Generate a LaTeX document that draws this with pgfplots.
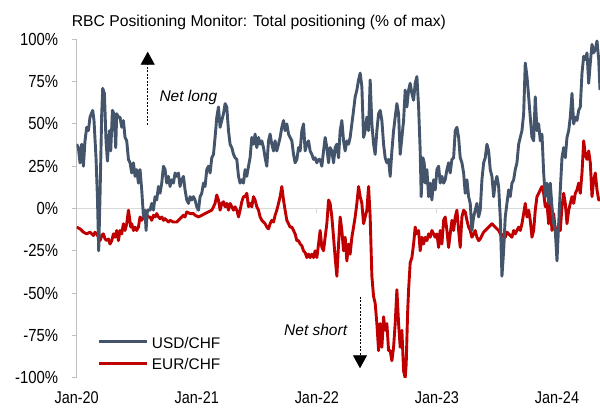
\documentclass[border=0pt]{standalone}
\usepackage{pgfplots}
\pgfplotsset{compat=1.18}
\usepackage{fontspec}
\setmainfont{Liberation Sans}
\newfontfamily\narrowfont[FakeStretch=0.85]{Liberation Sans}
\usetikzlibrary{arrows.meta}
\definecolor{usdc}{HTML}{44546A}
\definecolor{eurc}{HTML}{C00000}
\definecolor{axgray}{HTML}{BFBFBF}
\definecolor{zgray}{HTML}{D9D9D9}
\begin{document}
\begin{tikzpicture}[x=1pt,y=1pt]
\path[use as bounding box] (0,0) rectangle (600,409);
\begin{axis}[
  at={(76.7pt,31.3pt)}, anchor=south west,
  width=523.3pt, height=338.4pt, scale only axis,
  xmin=0, xmax=52.3, ymin=-100, ymax=100,
  axis x line*=bottom, x axis line style={draw=none},
  axis y line*=left, y axis line style={axgray, line width=0.9pt},
  tick align=outside, major tick length=5pt,
  xtick={0,12,24,36,48},
  xticklabels={Jan-20,Jan-21,Jan-22,Jan-23,Jan-24},
  xtick style={draw=none},
  ytick={-100,-75,-50,-25,0,25,50,75,100},
  yticklabels={-100\%,-75\%,-50\%,-25\%,0\%,25\%,50\%,75\%,100\%},
  ytick style={axgray, line width=0.9pt},
  yticklabel style={font=\narrowfont\fontsize{17.5}{20}\selectfont, inner sep=0pt, anchor=east, xshift=-13.4pt},
  xticklabel style={font=\narrowfont\fontsize{17}{20}\selectfont, inner sep=0pt, anchor=north, yshift=-9pt},
  line join=round,
]
\draw[zgray, line width=1.1pt] (axis cs:0,0) -- (axis cs:52.3,0);
\draw[zgray, line width=0.9pt] (axis cs:12,0) -- ([yshift=-5pt]axis cs:12,0);
\draw[zgray, line width=0.9pt] (axis cs:24,0) -- ([yshift=-5pt]axis cs:24,0);
\draw[zgray, line width=0.9pt] (axis cs:36,0) -- ([yshift=-5pt]axis cs:36,0);
\draw[zgray, line width=0.9pt] (axis cs:48,0) -- ([yshift=-5pt]axis cs:48,0);
% EUR/CHF
\addplot[eurc, line width=2.9pt] coordinates {
(0,-11)(0.33,-12)(0.67,-14)(1,-15)(1.33,-14)(1.67,-16)(1.83,-14)(2,-15)(2.17,-17)(2.33,-19)(2.5,-16)(2.67,-15)(2.83,-18)(3,-19)(3.17,-18)(3.33,-21)(3.5,-19)(3.67,-15)(3.83,-17)(4,-13)(4.17,-19)(4.33,-13)(4.5,-15)(4.67,-9)(4.83,-13)(5,-9)(5.17,-1)(5.27,-5)(5.4,-11)(5.5,-9)(5.67,-13)(5.83,-11)(6,-13)(6.17,-11)(6.33,-5)(6.5,-7)(6.67,-5)(6.83,-6)(7,-4)(7.17,-5)(7.33,-5)(7.5,-7)(7.67,-4)(7.83,-5)(8,-3)(8.17,-5)(8.33,-6)(8.5,-5)(8.67,-7)(8.83,-6)(9,-7)(9.17,-8)(9.33,-7)(9.67,-8)(10,-8)(10.33,-6)(10.67,-4)(10.83,-5)(11,-2)(11.33,-3)(11.67,-3)
(11.83,-4)(12.17,-5)(12.5,-4)(12.83,-3)(13.17,-2)(13.5,-1)(13.67,1)(13.83,3)(14,8)(14.17,5)(14.33,-1)(14.5,3)(14.67,4)(14.83,1)(15,3)(15.17,-1)(15.33,3)(15.5,1)(15.67,-1)(15.83,1)(16,-1)(16.17,-5)(16.33,-1)(16.5,4)(16.67,7)(16.83,7)(17,9)(17.17,1)(17.33,3)(17.5,1)(17.67,7)(17.83,5)(18,1)(18.17,-1)(18.33,-5)(18.5,-7)(18.67,-8)(18.83,-9)(19,-11)(19.17,-12)(19.33,-9)(19.5,-7)(19.67,-8)(19.83,-4)(20,-1)(20.17,3)(20.33,7)(20.5,13)(20.67,5)(20.83,-1)(21,-7)(21.17,-9)(21.33,-11)(21.5,-11)(21.67,-13)(21.83,-15)(22,-19)(22.17,-19)(22.33,-21)(22.5,-22)(22.67,-25)(22.83,-26)(23,-29)(23.17,-27)(23.33,-29)(23.5,-27)(23.67,-29)(23.83,-25)(24,-29)(24.17,-21)
(24.33,-13)(24.5,-23)(24.67,-25)(24.83,-17)(25,-9)(25.17,5)(25.33,3)(25.5,-5)(25.67,-17)(25.83,-29)(26,-40)(26.17,-21)(26.33,-5)(26.5,-13)(26.67,-25)(26.83,-17)(27,-31)(27.17,-21)(27.33,-27)(27.5,-17)(27.67,-11)(27.83,-5)(28,3)(28.17,13)(28.33,7)(28.5,3)(28.67,-9)(28.83,-5)(29,-1)(29.17,13)(29.33,-5)(29.5,-40)(29.67,-52)(29.83,-56)(30,-68)(30.17,-84)(30.33,-68)(30.5,-82)(30.67,-64)(30.83,-72)(31,-68)(31.17,-84)(31.33,-84)(31.5,-90)(31.67,-82)(31.83,-68)(32,-48)(32.17,-68)(32.33,-82)(32.5,-72)(32.67,-96)(32.83,-100)(32.93,-92)(33.07,-62)(33.17,-48)(33.33,-32)(33.5,-29)(33.67,-21)(33.83,-11)(34,-15)(34.17,-13)(34.33,-25)(34.5,-17)(34.67,-21)(34.83,-17)(35,-19)(35.17,-15)(35.33,-17)(35.5,-13)(35.67,-15)(35.83,-17)(36,-15)(36.17,-23)(36.33,-13)(36.5,-21)(36.67,-7)
(36.83,-5)(37,-13)(37.17,-23)(37.33,-15)(37.5,-7)(37.67,-13)(37.83,-5)(38,-1)(38.17,-13)(38.33,-23)(38.5,-5)(38.67,-1)(38.83,-2)(39,-7)(39.17,-11)(39.33,-13)(39.5,-17)(39.67,-15)(39.83,-13)(40,-17)(40.17,-19)(40.33,-18)(40.5,-16)(40.67,-14)(40.83,-13)(41.17,-11)(41.5,-9)(41.83,-11)(42.17,-13)(42.5,-17)(42.67,-15)(42.83,-17)(43,-14)(43.17,-15)(43.5,-17)(43.67,-13)(43.83,-15)(44.17,-11)(44.33,-13)(44.5,-9)(44.67,-3)(44.83,3)(45,-5)(45.17,-1)(45.33,-7)(45.5,-17)(45.67,-13)(45.83,-1)(46,7)(46.17,9)(46.33,11)(46.5,13)(46.67,9)(46.83,1)(47,3)(47.17,-9)(47.33,3)(47.5,-13)(47.67,-3)(47.83,-13)(48,-17)(48.17,-9)(48.33,-13)(48.5,1)(48.67,9)(48.83,3)(49,-9)(49.17,-1)(49.33,3)(49.5,7)(49.67,3)(49.83,9)(50,11)(50.17,15)(50.33,9)(50.5,21)(50.67,40)(50.83,32)(51,29)(51.17,34)(51.33,27)(51.5,7)(51.67,17)(51.83,21)(52,11)(52.17,5)(52.3,5)
};
% USD/CHF
\addplot[usdc, line width=2.9pt] coordinates {
(0,38)(0.17,36)(0.33,27)(0.5,38)(0.67,25)(0.83,40)(1,48)(1.17,46)(1.33,54)(1.6,58)(1.73,52)(1.93,30)(2.07,7)(2.2,-25)(2.33,7)(2.5,56)(2.6,71)(2.77,68)(2.93,40)(3.07,28)(3.27,46)(3.4,34)(3.57,58)(3.73,56)(3.9,36)(4,56)(4.17,54)(4.33,54)(4.5,48)(4.67,52)(4.83,42)(5,40)(5.17,29)(5.33,27)(5.5,21)(5.67,27)(5.83,19)(6,23)(6.17,15)(6.33,23)(6.5,11)(6.67,-5)(6.83,-1)(6.93,-13)(7.07,-1)(7.33,-1)(7.5,3)(7.67,-1)(7.83,7)(8,5)(8.17,13)(8.33,9)(8.5,15)(8.67,25)(8.83,23)(9,15)(9.17,19)(9.33,13)(9.5,17)(9.67,15)(9.83,21)(10,19)(10.17,21)(10.33,13)(10.5,17)(10.67,19)(10.83,11)(11,5)(11.17,3)(11.33,7)(11.5,5)(11.67,7)
(11.83,5)(12,1)(12.17,-1)(12.33,7)(12.5,9)(12.67,15)(12.83,13)(13,23)(13.17,25)(13.33,21)(13.5,30)(13.67,32)(13.83,42)(14,54)(14.17,60)(14.33,48)(14.5,52)(14.67,56)(14.83,62)(15,60)(15.17,46)(15.33,38)(15.5,36)(15.67,32)(15.83,30)(16,29)(16.17,19)(16.33,15)(16.5,17)(16.67,15)(16.83,23)(17,19)(17.17,25)(17.33,30)(17.5,42)(17.67,38)(17.83,44)(18,36)(18.17,42)(18.33,38)(18.5,40)(18.67,36)(18.83,30)(19,25)(19.17,40)(19.33,44)(19.5,38)(19.67,34)(19.83,40)(20,34)(20.17,38)(20.33,42)(20.5,48)(20.67,52)(20.83,46)(21,50)(21.17,44)(21.33,42)(21.5,40)(21.67,32)(21.83,27)(22,29)(22.17,36)(22.33,34)(22.5,46)(22.67,50)(22.83,34)(23,38)(23.17,40)(23.33,34)(23.5,32)(23.67,29)(23.83,30)(24,27)(24.17,29)
(24.33,29)(24.5,25)(24.67,34)(24.83,42)(25,36)(25.17,27)(25.33,36)(25.5,34)(25.67,27)(25.83,36)(26,38)(26.17,30)(26.33,46)(26.5,52)(26.67,40)(26.83,34)(27,40)(27.17,38)(27.33,42)(27.5,50)(27.67,58)(27.83,66)(28,70)(28.17,76)(28.33,80)(28.5,72)(28.67,42)(28.83,46)(29,54)(29.17,46)(29.33,76)(29.5,50)(29.67,38)(29.83,32)(30,46)(30.17,56)(30.33,58)(30.5,52)(30.67,38)(30.83,30)(31,27)(31.17,29)(31.33,19)(31.5,34)(31.67,46)(31.83,54)(32,62)(32.17,56)(32.33,32)(32.5,42)(32.67,52)(32.83,70)(33,60)(33.17,70)(33.33,74)(33.5,68)(33.67,64)(33.83,74)(34,78)(34.17,60)(34.33,34)(34.43,7)(34.6,30)(34.73,27)(34.83,15)(35,23)(35.17,7)(35.33,15)(35.5,5)(35.67,17)(35.83,11)(36,23)(36.17,25)(36.33,15)(36.5,19)(36.67,15)
(36.83,17)(37,23)(37.17,27)(37.33,21)(37.5,29)(37.67,30)(37.83,46)(38,48)(38.17,42)(38.33,30)(38.5,27)(38.67,21)(38.83,9)(39,17)(39.17,7)(39.33,3)(39.5,-13)(39.67,-5)(39.83,-1)(40,3)(40.17,-5)(40.33,-1)(40.5,17)(40.67,27)(40.83,30)(41,38)(41.17,34)(41.33,23)(41.5,19)(41.67,7)(41.83,15)(42,19)(42.17,13)(42.33,-5)(42.5,-40)(42.67,-25)(42.83,-5)(43,3)(43.17,11)(43.33,7)(43.5,15)(43.67,17)(43.83,23)(44,27)(44.17,38)(44.33,42)(44.5,46)(44.67,56)(44.83,86)(45,78)(45.17,66)(45.33,54)(45.5,42)(45.67,40)(45.83,66)(46,46)(46.17,50)(46.33,40)(46.5,44)(46.67,21)(46.83,7)(47,15)(47.17,3)(47.33,15)(47.5,1)(47.67,-9)(47.83,-13)(48,-31)(48.17,-9)(48.33,11)(48.5,30)(48.67,36)(48.83,30)(49,42)(49.17,46)(49.33,54)(49.5,68)(49.67,50)(49.83,54)(50,52)(50.17,58)(50.33,60)(50.5,80)(50.67,90)(50.83,88)(51,92)(51.17,74)(51.33,86)(51.5,97)(51.67,92)(51.83,94)(52,99)(52.17,88)(52.3,70)
};
\end{axis}
\node[anchor=base west, inner sep=0pt, font=\fontsize{15.7}{18}\selectfont] at (71.7,382.3) {RBC Positioning Monitor: Total positioning (\% of max)};
\draw[black, line width=0.8pt, dash pattern=on 2pt off 1.5pt, -{Triangle[width=14pt,length=13pt]}] (147.7,284) -- (147.7,357.3);
\node[anchor=base west, inner sep=0pt, font=\itshape\fontsize{15.5}{18}\selectfont] at (159.3,307.3) {Net long};
\draw[black, line width=0.8pt, dash pattern=on 2pt off 1.5pt, -{Triangle[width=14pt,length=13pt]}] (360,112.3) -- (360,40.7);
\node[anchor=base west, inner sep=0pt, font=\itshape\fontsize{15.5}{18}\selectfont] at (284,73) {Net short};
\draw[usdc, line width=3pt] (99,67.3) -- (146.7,67.3);
\node[anchor=base west, inner sep=0pt, font=\fontsize{15.4}{18}\selectfont] at (151.7,60.7) {USD/CHF};
\draw[eurc, line width=3pt] (99,45) -- (146.7,45);
\node[anchor=base west, inner sep=0pt, font=\fontsize{15.4}{18}\selectfont] at (151.7,39) {EUR/CHF};
\end{tikzpicture}
\end{document}
